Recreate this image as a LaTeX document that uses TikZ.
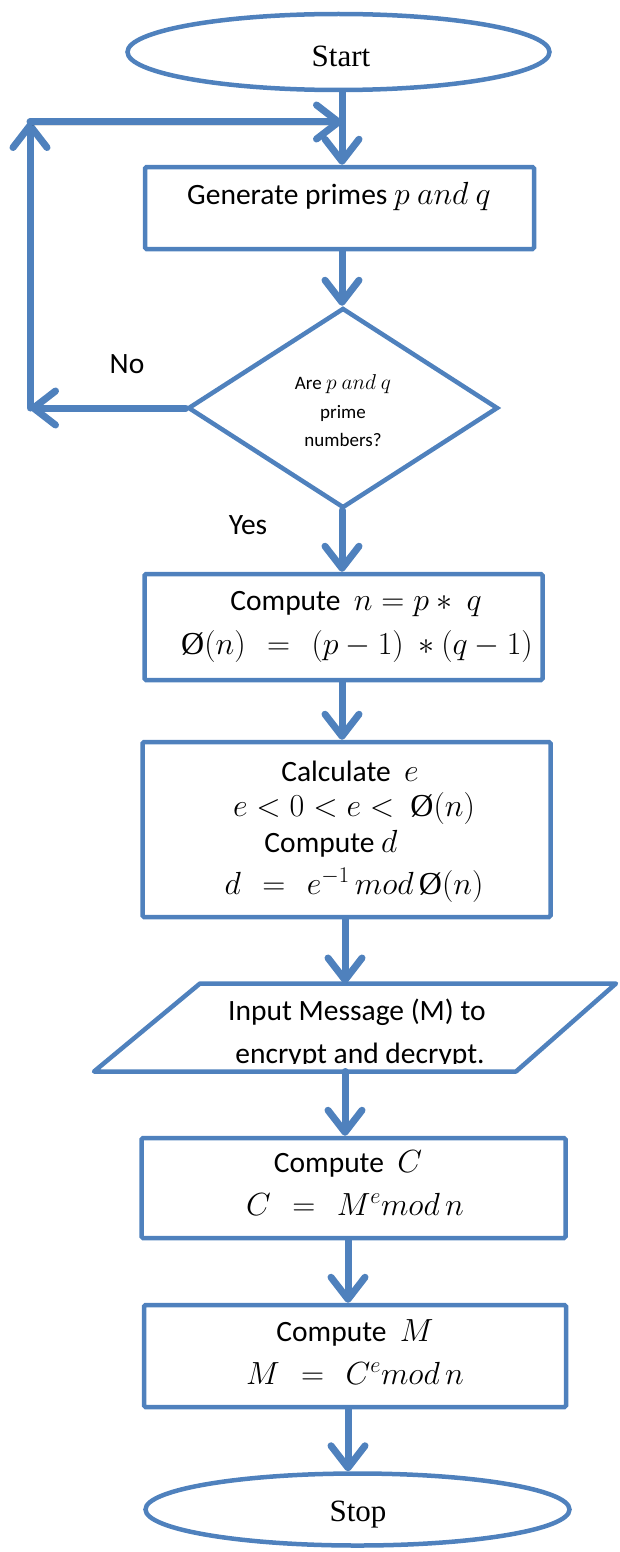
\RequirePackage{fix-cm}
\documentclass[tikz,border=0pt]{standalone}
\usepackage[no-math]{fontspec}
\setmainfont{Carlito}
\newfontfamily\tms{Liberation Serif}
\usetikzlibrary{arrows.meta,shapes.geometric}
\definecolor{flow}{HTML}{4F81BD}
\newcommand{\Oslashsym}{\mbox{\tms Ø}}
% formulas are set a little larger than the surrounding words
\newcommand{\fml}[1]{{\fontsize{32}{42}\selectfont$#1$}}
\newcommand{\fmlsmall}[1]{{\fontsize{21.5}{28.5}\selectfont$#1$}}

\tikzset{
  box/.style={draw=flow, line width=4.5pt, rounded corners=1.5pt, inner sep=0pt},
  term/.style={ellipse, draw=flow, line width=4.5pt, inner sep=0pt,
               font=\tms\fontsize{31}{36}\selectfont},
  decision/.style={diamond, draw=flow, line width=4.5pt, inner sep=0pt},
  flowarrow/.style={draw=flow, line width=7pt, line cap=round, line join=round,
                    -{Straight Barb[length=22pt,width=34pt,round]},
                    preaction={draw=black, draw opacity=0.12,
                               transform canvas={shift={(1.5pt,-3pt)}}}},
  txt/.style={inner sep=0pt, align=center, text height=20pt, text depth=6pt,
              font=\fontsize{29.5}{42}\selectfont},
  small/.style={inner sep=0pt, align=center, font=\fontsize{19}{28.5}\selectfont},
}

\begin{document}
\begin{tikzpicture}[x=1pt,y=-1pt]
\useasboundingbox (0,0) rectangle (620,1552);

% vertical axes used by the main flow arrows
\coordinate (axA) at (342,0);
\coordinate (axB) at (345,0);
\coordinate (axC) at (348,0);

% terminals, process boxes and the decision
\node[term, minimum width=422pt, minimum height=76pt] (start) at (338.5,52) {};
\node[term, minimum width=424pt, minimum height=72pt] (stop) at (357.5,1509.5) {};
\node[box, minimum width=389pt, minimum height=82pt] (gen) at (339.5,208) {};
\node[decision, minimum width=310pt, minimum height=200pt] (dia) at (343,408) {};
\node[box, minimum width=398pt, minimum height=106pt] (comp) at (343.5,627) {};
\node[box, minimum width=408pt, minimum height=175pt] (keys) at (346.5,829.5) {};
\node[box, minimum width=424pt, minimum height=100pt] (enc) at (353.5,1188) {};
\node[box, minimum width=422pt, minimum height=102pt] (dec) at (355,1356) {};

% input parallelogram
\coordinate (inTL) at (200,983.5);
\coordinate (inTR) at (616,983.5);
\coordinate (inBR) at (516,1071.5);
\coordinate (inBL) at (94,1071.5);
\draw[draw=flow, line width=4.5pt, line join=round] (inTL) -- (inTR) -- (inBR) -- (inBL) -- cycle;

% texts
\node at (341,56) [font=\tms\fontsize{31}{36}\selectfont, inner sep=0pt] (startT) {Start};
\node at (358,1515) [font=\tms\fontsize{31}{36}\selectfont, inner sep=0pt] (stopT) {Stop};
\node[txt] (genT) at (339,197) {Generate primes \fml{p\ and\ q}};
\node[small] (diaT) at (343,411) {Are \fmlsmall{p\ and\ q}\\prime\\numbers?};
\node[txt] (noT) at (127,366) {No};
\node[txt] (yesT) at (248,527) {Yes};
\node[txt] (compT1) at (356,603) {Compute \ \fml{n = p * \ q}};
\node[txt] (compT2) at (357,647) {\fml{\Oslashsym(n)\ \,=\ \,(p-1)\ *(q-1)}};
\node[txt] (keysT1) at (350,774) {Calculate \ \fml{e}};
\node[txt] (keysT2) at (354,809) {\fml{e < 0 < e <\ \Oslashsym(n)}};
\node[txt] (keysT3) at (331,845) {Compute \fml{d}};
\node[txt] (keysT4) at (354,887) {\fml{d\ \,=\ \,e^{-1}\,mod\,\Oslashsym(n)}};
\node[txt] (inT1) at (357,1013) {Input Message (M) to};
\begin{scope}
  \clip (0,900) rectangle (620,1063);
  \node[txt, anchor=base] (inT2) at (360,1063) {encrypt and decrypt.};
\end{scope}
\node[txt] (encT1) at (348,1165) {Compute \ \fml{C}};
\node[txt] (encT2) at (355,1208) {\fml{C\ \,=\ \,M^e mod\, n}};
\node[txt] (decT1) at (355,1334) {Compute \ \fml{M}};
\node[txt] (decT2) at (355,1377) {\fml{M\ \,=\ \,C^e mod\, n}};

% main flow
\draw[flowarrow] (start.south -| axA) -- (gen.north -| axA);
\draw[flowarrow] (gen.south -| axA) -- (dia.north -| axA);
\draw[flowarrow] (dia.south -| axA) -- (comp.north -| axA);
\draw[flowarrow] (comp.south -| axA) -- (keys.north -| axA);
\draw[flowarrow] (keys.south -| axB) -- (inTL -| axB);
\draw[flowarrow] (inBL -| axB) -- (enc.north -| axB);
\draw[flowarrow] (enc.south -| axC) -- (dec.north -| axC);
\draw[flowarrow] (dec.south -| axC) -- (stop.north -| axC);

% loop back when p and q are not prime
\coordinate (loopB) at (30,408);
\coordinate (loopT) at (30,122);
\draw[flowarrow] (dia.west) -- (loopB);
\draw[flowarrow] (loopB) -- (loopT);
\draw[flowarrow] (loopT) -- (loopT -| axA);
\end{tikzpicture}
\end{document}
